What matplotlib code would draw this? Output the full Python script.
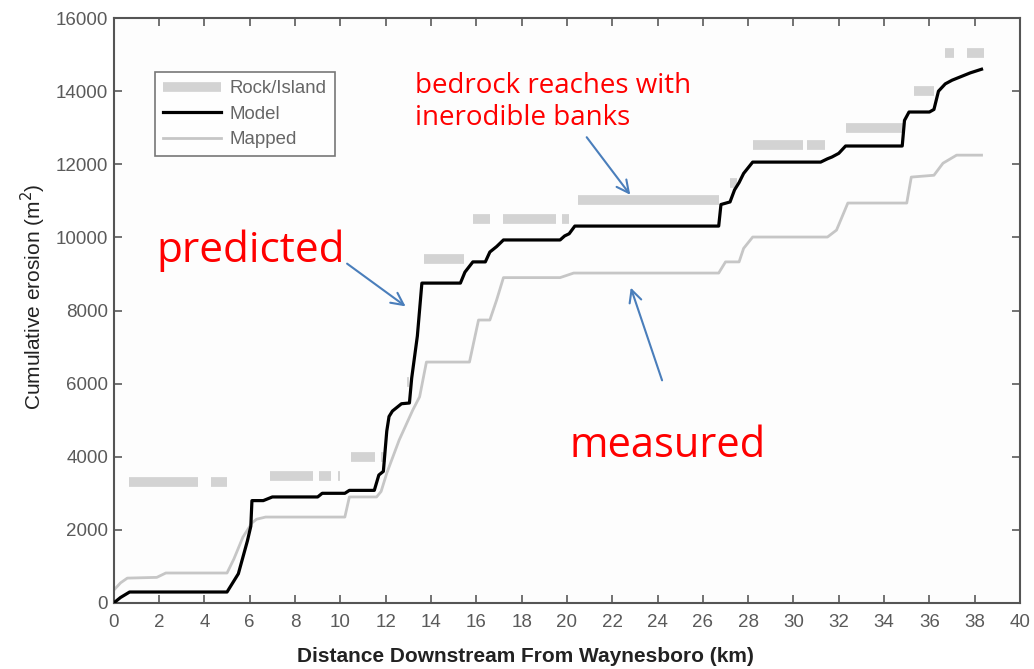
import numpy as np
import matplotlib.pyplot as plt

# Model (predicted) cumulative erosion
model_x = [0, 0.3, 0.7, 5.0, 5.2, 5.5, 5.9, 6.05, 6.1, 6.6, 7.0, 9.0, 9.2, 10.2, 10.4, 11.5,
           11.7, 11.9, 12.05, 12.15, 12.3, 12.7, 13.05, 13.15, 13.4, 13.6, 15.3, 15.5, 15.85,
           16.4, 16.6, 16.9, 17.2, 19.7, 19.9, 20.1, 20.35, 26.7, 26.8, 27.2, 27.4, 27.6,
           27.8, 28.2, 31.2, 31.5, 31.7, 32.0, 32.3, 34.8, 34.9, 35.1, 36.0, 36.2, 36.4,
           36.7, 37.0, 37.4, 37.8, 38.3]
model_y = [0, 150, 300, 300, 500, 800, 1700, 2100, 2800, 2800, 2900, 2900, 3000, 3000, 3080,
           3080, 3500, 3600, 4700, 5100, 5250, 5450, 5470, 6150, 7300, 8750, 8750, 9050,
           9330, 9330, 9600, 9750, 9930, 9930, 10040, 10100, 10310, 10310, 10900, 10970,
           11300, 11500, 11750, 12060, 12060, 12150, 12200, 12300, 12500, 12500, 13200,
           13430, 13430, 13500, 14000, 14200, 14300, 14400, 14500, 14600]

# Mapped (measured) cumulative erosion
mapped_x = [0, 0.3, 0.6, 1.9, 2.3, 5.0, 5.3, 5.7, 6.1, 6.3, 6.7, 10.2, 10.4, 11.6, 11.8,
            12.05, 12.6, 13.2, 13.5, 13.8, 15.7, 16.1, 16.6, 16.9, 17.2, 19.7, 20.3, 26.7,
            27.0, 27.6, 27.8, 28.2, 31.5, 31.9, 32.4, 35.0, 35.2, 36.2, 36.6, 37.2, 38.3]
mapped_y = [350, 550, 680, 700, 820, 820, 1200, 1800, 2190, 2290, 2350, 2350, 2900, 2900,
            3050, 3550, 4460, 5280, 5640, 6590, 6590, 7740, 7740, 8290, 8900, 8900, 9025,
            9025, 9330, 9330, 9700, 10010, 10010, 10200, 10940, 10940, 11650, 11700, 12030,
            12250, 12250]

# Rock/Island reaches
rock_y = [3300, 3300, 3470, 3470, 3470, 4000, 4000, 6050, 9400, 10500, 10500, 10500,
          11020, 11500, 12530, 12530, 13000, 14000, 15050, 15050]
rock_x0 = [0.66, 4.3, 6.9, 9.05, 9.9, 10.45, 11.8, 12.95, 13.7, 15.85, 17.2, 19.8,
           20.5, 27.2, 28.2, 30.6, 32.3, 35.3, 36.7, 37.65]
rock_x1 = [3.7, 5.0, 8.8, 9.6, 10.0, 11.55, 12.0, 13.05, 15.45, 16.6, 19.5, 20.1,
           26.7, 27.5, 30.4, 31.4, 34.85, 36.2, 37.1, 38.4]

x_ticks = np.arange(0, 41, 2)
y_ticks = np.arange(0, 16001, 2000)

plt.rcParams['font.family'] = ['Liberation Sans', 'DejaVu Sans']

fig = plt.figure(figsize=(10.34, 6.69), dpi=100)
ax = fig.add_axes([0.110, 0.0987, 0.8765, 0.8743])
ax.set_facecolor('#fdfdfd')

ax.hlines(rock_y, rock_x0, rock_x1, colors='#d3d3d3', linewidth=7, capstyle='butt',
          label='Rock/Island', zorder=1)
ax.plot(model_x, model_y, color='black', linewidth=2.3, label='Model', zorder=3)
ax.plot(mapped_x, mapped_y, color='#c6c6c6', linewidth=2.0, label='Mapped', zorder=2)

ax.set_xlim(0, 40)
ax.set_ylim(0, 16000)
ax.set_xticks(x_ticks)
ax.set_yticks(y_ticks)
ax.tick_params(direction='in', top=True, right=True, length=6, width=1.2,
               colors='#5a5a5a', labelsize=13.5)
ax.tick_params(axis='y', pad=4)
ax.tick_params(axis='x', pad=8)
for s in ax.spines.values():
    s.set_color('#555555')
    s.set_linewidth(1.5)

ax.set_xlabel('Distance Downstream From Waynesboro (km)', fontsize=15, fontweight='bold',
              color='#222222')
ax.set_ylabel('Cumulative erosion (m$^2$)', fontsize=15, color='#222222')
ax.xaxis.set_label_coords(0.454, -0.092)
ax.yaxis.set_label_coords(-0.089, 0.523)
ax.xaxis.label.set_va('center')
ax.yaxis.label.set_va('center')

leg = ax.legend(loc='upper left', bbox_to_anchor=(0.045, 0.908), fontsize=13.4,
                frameon=True, fancybox=False, handlelength=3.1, borderpad=0.45,
                labelspacing=0.45, handletextpad=0.5, borderaxespad=0)
leg.get_frame().set_edgecolor('#555555')
leg.get_frame().set_linewidth(1.2)
for t in leg.get_texts():
    t.set_color('#666666')

# Annotations
red_font = ['Open Sans', 'DejaVu Sans']
arrow_kw = dict(arrowstyle='->', color='#4a7ebb', lw=1.5, mutation_scale=22)
ax.text(0.0475, 0.603, 'predicted', transform=ax.transAxes, color='red', fontsize=30.5,
        family=red_font, va='center', ha='left')
ax.text(0.332, 0.856, 'bedrock reaches with\ninerodible banks', transform=ax.transAxes,
        color='red', fontsize=20, family=red_font, va='center', ha='left', linespacing=1.2)
ax.text(0.503, 0.268, 'measured', transform=ax.transAxes, color='red', fontsize=30,
        family=red_font, va='center', ha='left')
ax.annotate('', xy=(12.98, 8069), xytext=(10.2, 9327), arrowprops=arrow_kw)
ax.annotate('', xy=(22.87, 11105), xytext=(20.8, 12801), arrowprops=arrow_kw)
ax.annotate('', xy=(22.78, 8698), xytext=(24.24, 6018), arrowprops=arrow_kw)

fig.savefig('out.png', dpi=100, facecolor='white')
